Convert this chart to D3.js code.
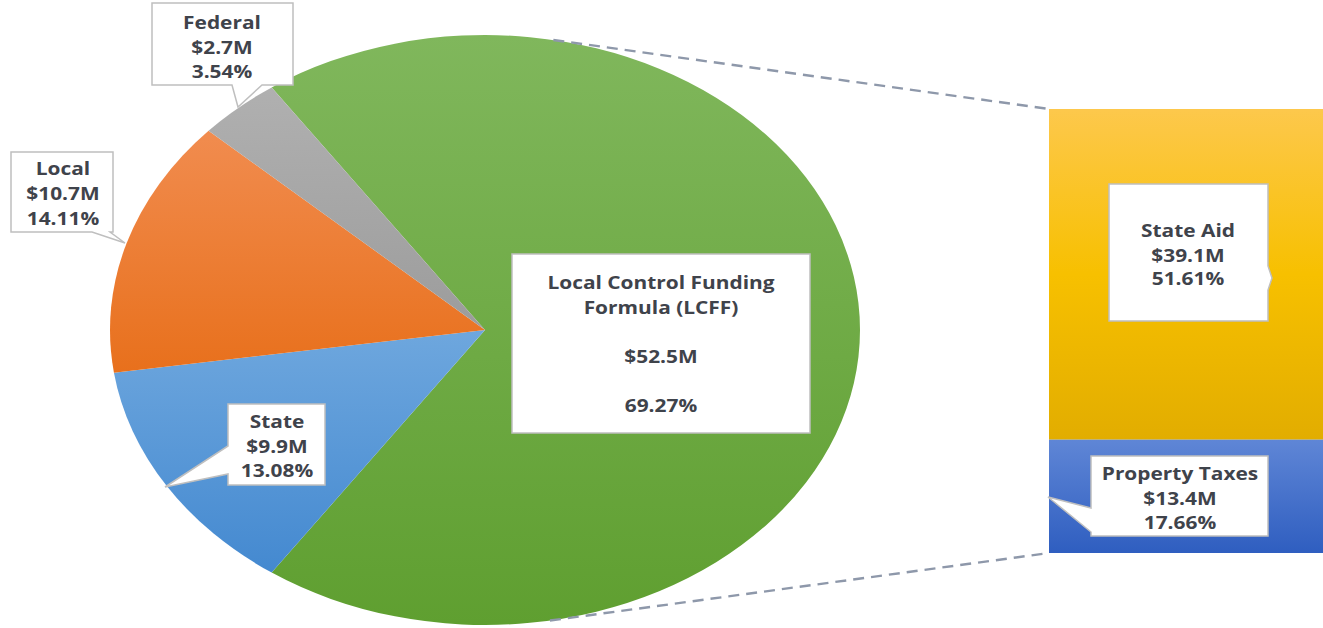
<!DOCTYPE html>
<html>
<head>
<meta charset="utf-8">
<script src="https://cdn.jsdelivr.net/npm/d3@7"></script>
<style>
  html, body { margin: 0; padding: 0; background: #ffffff; }
  svg { display: block; }
  text { font-family: "Open Sans", "Noto Sans", sans-serif; font-weight: 700; fill: #3f434b; }
</style>
</head>
<body>
<svg id="chart" width="1323" height="628"></svg>
<script>
// ---------------- DATA ----------------
const pieCategories = ["Local Control Funding Formula (LCFF)", "State", "Local", "Federal"];
const pieValueLabels = ["$52.5M", "$9.9M", "$10.7M", "$2.7M"];
const pieValues = [52.5, 9.9, 10.7, 2.7];
const piePercents = ["69.27%", "13.08%", "14.11%", "3.54%"];

const barCategories = ["State Aid", "Property Taxes"];
const barValueLabels = ["$39.1M", "$13.4M"];
const barValues = [39.1, 13.4];
const barPercents = ["51.61%", "17.66%"];

// ---------------- LAYOUT / STYLE ----------------
const W = 1323, H = 628;
const cx = 485, cy = 330, rx = 375, ry = 295;
const sliceGrad = [
  ["#80b75c", "#5f9f30"],   // LCFF green
  ["#6ea7de", "#4489d0"],   // State blue
  ["#f18c4f", "#e8701c"],   // Local orange
  ["#b0b0b0", "#9c9c9c"]    // Federal gray
];
const barGrad = [
  ["#fdc84c", "#f7c000", "#e2ad00"],
  ["#5f86d6", "#2f5ec0"]
];
const barX0 = 1049, barTop = 109, barBottom = 553;
const fontSize = 18.5, fontStretch = 1.13;

const svg = d3.select("#chart");
const defs = svg.append("defs");

function vGrad(id, stops) {
  const g = defs.append("linearGradient").attr("id", id)
    .attr("x1", 0).attr("y1", 0).attr("x2", 0).attr("y2", 1);
  stops.forEach((c, i) => g.append("stop")
    .attr("offset", (i / (stops.length - 1)) * 100 + "%").attr("stop-color", c));
}
sliceGrad.forEach((s, i) => vGrad("sg" + i, s));
barGrad.forEach((s, i) => vGrad("bg" + i, s));

// ---------------- PIE ----------------
const total = d3.sum(pieValues);
const splitAngle = (pieValues[0] / total) * 2 * Math.PI;
const pie = d3.pie().sort(null).value(d => d)
  .startAngle(Math.PI / 2 - splitAngle / 2)
  .endAngle(Math.PI / 2 - splitAngle / 2 + 2 * Math.PI);
const arcs = pie(pieValues);
const arc = d3.arc().innerRadius(0).outerRadius(ry);

const pieG = svg.append("g")
  .attr("transform", `translate(${cx},${cy}) scale(${rx / ry},1)`);
pieG.selectAll("path.slice").data(arcs).enter().append("path")
  .attr("class", "slice")
  .attr("d", arc)
  .attr("fill", (d, i) => `url(#sg${i})`);

// ---------------- BAR (stack) ----------------
const yScale = d3.scaleLinear().domain([0, d3.sum(barValues)]).range([barBottom, barTop]);
let acc = d3.sum(barValues);
const stacked = barValues.map(v => { const top = acc; acc -= v; return { y0: acc, y1: top }; });
svg.selectAll("rect.bar").data(stacked).enter().append("rect")
  .attr("class", "bar")
  .attr("x", barX0)
  .attr("width", W - barX0 + 5)
  .attr("y", d => yScale(d.y1))
  .attr("height", d => yScale(d.y0) - yScale(d.y1))
  .attr("fill", (d, i) => `url(#bg${i})`);

// ---------------- SERIES LINES ----------------
const connAngle = 10.5 * Math.PI / 180;
const topPt = [cx + rx * Math.sin(connAngle), cy - ry * Math.cos(connAngle)];
const botPt = [cx + rx * Math.sin(connAngle * 0.95), cy + ry * Math.cos(connAngle * 0.95)];
[[topPt, [barX0, yScale(d3.sum(barValues))]], [botPt, [barX0, yScale(0)]]].forEach(([a, b]) => {
  svg.append("line")
    .attr("x1", a[0]).attr("y1", a[1]).attr("x2", b[0]).attr("y2", b[1])
    .attr("stroke", "#8e98aa").attr("stroke-width", 2.4)
    .attr("stroke-dasharray", "11,7");
});

// ---------------- CALLOUTS ----------------
function calloutPath(b) {
  const { x, y, w, h, p } = b;
  const x2 = x + w, y2 = y + h;
  let d = `M${x},${y} L${x2},${y}`;
  if (p && p.side === "right") d += ` L${x2},${p.a} L${p.tx},${p.ty} L${x2},${p.b}`;
  d += ` L${x2},${y2}`;
  if (p && p.side === "bottom") d += ` L${p.b},${y2} L${p.tx},${p.ty} L${p.a},${y2}`;
  d += ` L${x},${y2}`;
  if (p && p.side === "left") d += ` L${x},${p.b} L${p.tx},${p.ty} L${x},${p.a}`;
  return d + " Z";
}

const pieBoxes = [
  { x: 512, y: 254, w: 298, h: 179, p: null, cxT: 661, lines: [
      { t: "Local Control Funding", y: 289 }, { t: "Formula (LCFF)", y: 314 },
      { t: "$V", y: 363 }, { t: "$P", y: 412 }] },
  { x: 228, y: 404, w: 97, h: 81, p: { side: "left", a: 446, b: 474, tx: 165, ty: 487 }, cxT: 277,
    lines: [{ t: "$C", y: 428 }, { t: "$V", y: 453 }, { t: "$P", y: 477 }] },
  { x: 11, y: 152, w: 102, h: 80, p: { side: "bottom", a: 92, b: 110, tx: 125, ty: 243 }, cxT: 63,
    lines: [{ t: "$C", y: 175 }, { t: "$V", y: 200 }, { t: "$P", y: 225 }] },
  { x: 152, y: 3, w: 141, h: 82, p: { side: "bottom", a: 232, b: 262, tx: 238, ty: 107 }, cxT: 222,
    lines: [{ t: "$C", y: 29 }, { t: "$V", y: 54 }, { t: "$P", y: 78 }] }
];
const barBoxes = [
  { x: 1109, y: 184, w: 159, h: 137, p: { side: "right", a: 266, b: 290, tx: 1272, ty: 278 }, cxT: 1188,
    lines: [{ t: "$C", y: 237 }, { t: "$V", y: 262 }, { t: "$P", y: 285 }] },
  { x: 1091, y: 456, w: 177, h: 80, p: { side: "left", a: 508, b: 532, tx: 1048, ty: 497 }, cxT: 1180,
    lines: [{ t: "$C", y: 480 }, { t: "$V", y: 505 }, { t: "$P", y: 529 }] }
];

function drawCallouts(boxes, cats, vals, pcts) {
  boxes.forEach((b, i) => {
    const g = svg.append("g");
    g.append("path").attr("d", calloutPath(b))
      .attr("fill", "#ffffff").attr("stroke", "#bfbfbf").attr("stroke-width", 1.5)
      .attr("stroke-linejoin", "miter");
    b.lines.forEach(l => {
      const txt = l.t === "$C" ? cats[i] : l.t === "$V" ? vals[i] : l.t === "$P" ? pcts[i] : l.t;
      g.append("text")
        .attr("transform", `translate(${b.cxT},${l.y}) scale(${fontStretch},1)`)
        .attr("text-anchor", "middle").attr("font-size", fontSize).text(txt);
    });
  });
}
drawCallouts(pieBoxes, pieCategories, pieValueLabels, piePercents);
drawCallouts(barBoxes, barCategories, barValueLabels, barPercents);
</script>
</body>
</html>
